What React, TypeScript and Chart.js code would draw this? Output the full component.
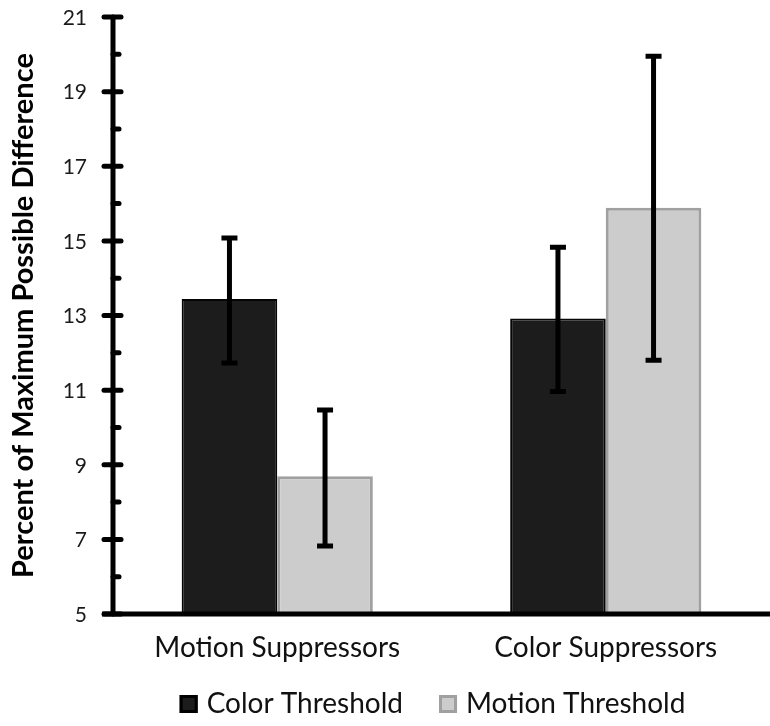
import React, { useEffect, useRef } from "react";
import { Chart, registerables } from "chart.js";

Chart.register(...registerables);

const categories = ["Motion Suppressors", "Color Suppressors"];
const seriesNames = ["Color Threshold", "Motion Threshold"];
const colorThreshold = [13.44, 12.92];
const motionThreshold = [8.69, 15.89];
const colorHigh = [15.08, 14.83];
const colorLow = [11.73, 10.96];
const motionHigh = [10.47, 19.95];
const motionLow = [6.82, 11.8];
const yTickLabels = [5, 7, 9, 11, 13, 15, 17, 19, 21];
const yTitle = "Percent of Maximum Possible Difference";

const FONT = "Lato, 'Open Sans', sans-serif";

const errorBarPlugin = {
  id: "errorBars",
  afterDatasetsDraw(chart: any) {
    const ctx = chart.ctx;
    const y = chart.scales.y;
    const highs = [colorHigh, motionHigh];
    const lows = [colorLow, motionLow];
    ctx.save();
    ctx.strokeStyle = "#000";
    ctx.lineWidth = 5;
    ctx.lineCap = "butt";
    chart.data.datasets.forEach((_: any, di: number) => {
      const meta = chart.getDatasetMeta(di);
      meta.data.forEach((el: any, j: number) => {
        const x = el.x;
        const yh = y.getPixelForValue(highs[di][j]);
        const yl = y.getPixelForValue(lows[di][j]);
        ctx.beginPath();
        ctx.moveTo(x, yh);
        ctx.lineTo(x, yl);
        ctx.stroke();
        ctx.beginPath();
        ctx.moveTo(x - 8, yh);
        ctx.lineTo(x + 8, yh);
        ctx.moveTo(x - 8, yl);
        ctx.lineTo(x + 8, yl);
        ctx.stroke();
      });
    });
    ctx.restore();
  },
};

const axesPlugin = {
  id: "customAxes",
  afterDraw(chart: any) {
    const ctx = chart.ctx;
    const { left, right, top, bottom } = chart.chartArea;
    const y = chart.scales.y;
    ctx.save();
    ctx.strokeStyle = "#000";
    ctx.lineWidth = 5;
    ctx.lineCap = "round";
    ctx.beginPath();
    ctx.moveTo(left, top);
    ctx.lineTo(left, bottom);
    ctx.stroke();
    ctx.lineCap = "butt";
    ctx.beginPath();
    ctx.moveTo(left - 11, bottom);
    ctx.lineTo(right, bottom);
    ctx.stroke();
    ctx.lineCap = "round";
    for (let v = y.min; v <= y.max; v += 1) {
      const py = y.getPixelForValue(v);
      ctx.beginPath();
      if ((v - y.min) % 2 === 0) {
        ctx.moveTo(left - 9, py);
        ctx.lineTo(left + 8, py);
      } else {
        ctx.moveTo(left, py);
        ctx.lineTo(left + 6, py);
      }
      ctx.stroke();
    }
    ctx.fillStyle = "#1a1a1a";
    ctx.font = `21px ${FONT}`;
    ctx.textAlign = "left";
    ctx.textBaseline = "middle";
    yTickLabels.forEach((v) => {
      const s = String(v);
      const w = ctx.measureText(s).width;
      ctx.fillText(s, left - 26 - w, y.getPixelForValue(v) + 1);
    });
    ctx.save();
    ctx.translate(33, (top + bottom) / 2);
    ctx.rotate(-Math.PI / 2);
    ctx.font = `bold 29px ${FONT}`;
    ctx.fillStyle = "#000";
    ctx.textAlign = "center";
    ctx.textBaseline = "alphabetic";
    ctx.fillText(yTitle, 0, 0);
    ctx.restore();
    ctx.font = `28px ${FONT}`;
    ctx.textBaseline = "middle";
    ctx.textAlign = "left";
    const box = 18;
    const gapBoxText = 9;
    const gapItems = 36;
    const widths = seriesNames.map((n) => ctx.measureText(n).width);
    const total = widths.reduce((a, w) => a + box + gapBoxText + w, 0) + gapItems;
    let x = (left + right) / 2 - 9 - total / 2;
    const ly = 704;
    const fills = ["#1c1c1c", "#cccccc"];
    const borders = ["#000", "#a0a0a0"];
    seriesNames.forEach((n, i) => {
      ctx.fillStyle = fills[i];
      ctx.fillRect(x, ly - box / 2, box, box);
      ctx.lineWidth = 3;
      ctx.strokeStyle = borders[i];
      ctx.strokeRect(x + 1.5, ly - box / 2 + 1.5, box - 3, box - 3);
      ctx.fillStyle = "#111";
      ctx.fillText(n, x + box + gapBoxText, ly);
      x += box + gapBoxText + widths[i] + gapItems;
    });
    ctx.restore();
  },
};

export default function App() {
  const ref = useRef<HTMLCanvasElement>(null);
  useEffect(() => {
    if (!ref.current) return;
    const chart = new Chart(ref.current, {
      type: "bar",
      data: {
        labels: categories,
        datasets: [
          {
            label: seriesNames[0],
            data: colorThreshold,
            backgroundColor: "#1c1c1c",
            borderColor: "#050505",
            borderWidth: 2,
            base: 5,
          } as any,
          {
            label: seriesNames[1],
            data: motionThreshold,
            backgroundColor: "#cccccc",
            borderColor: "#a0a0a0",
            borderWidth: 3,
            base: 5,
          } as any,
        ],
      },
      options: {
        animation: false,
        responsive: true,
        maintainAspectRatio: false,
        datasets: { bar: { categoryPercentage: 0.582, barPercentage: 1 } },
        layout: { padding: { top: 17, right: -3, left: 0, bottom: 0 } },
        plugins: {
          legend: { display: false },
          tooltip: { enabled: false },
        },
        scales: {
          x: {
            grid: { display: false, drawTicks: false },
            border: { display: false },
            ticks: {
              color: "#111",
              font: { family: FONT, size: 28 },
              padding: 17,
            },
            afterFit(scale: any) {
              scale.height = 112;
            },
          },
          y: {
            min: 5,
            max: 21,
            grid: { display: false, drawTicks: false },
            border: { display: false },
            ticks: { display: false, stepSize: 1 },
            afterFit(scale: any) {
              scale.width = 113;
            },
          },
        },
      },
      plugins: [errorBarPlugin, axesPlugin],
    });
    return () => chart.destroy();
  }, []);
  return (
    <div style={{ position: "absolute", left: 0, top: 0, width: 770, height: 726, background: "#fff" }}>
      <canvas ref={ref} />
    </div>
  );
}
